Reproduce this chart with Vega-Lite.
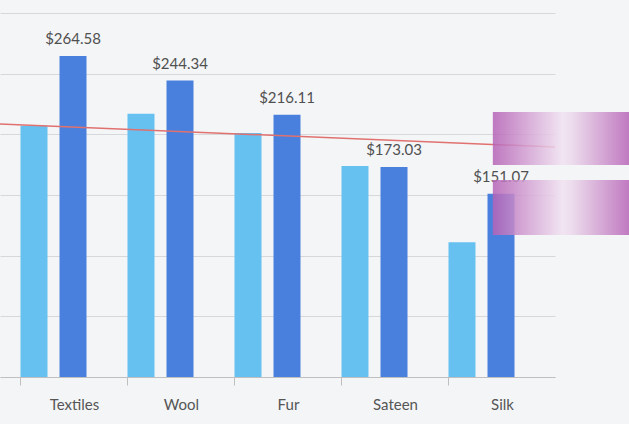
{
  "$schema": "https://vega.github.io/schema/vega-lite/v6.json",
  "width": 555,
  "height": 364,
  "autosize": {"type": "none"},
  "padding": {"left": 0, "top": 13, "right": 74, "bottom": 47},
  "background": "#f4f5f7",
  "config": {"view": {"stroke": null}, "font": "Lato"},
  "layer": [
    {
      "data": {
        "values": [
          {"material": "Textiles", "series": "Series 1", "value": 207},
          {"material": "Textiles", "series": "Series 2", "value": 264.58},
          {"material": "Wool", "series": "Series 1", "value": 217},
          {"material": "Wool", "series": "Series 2", "value": 244.34},
          {"material": "Fur", "series": "Series 1", "value": 201},
          {"material": "Fur", "series": "Series 2", "value": 216.11},
          {"material": "Sateen", "series": "Series 1", "value": 174},
          {"material": "Sateen", "series": "Series 2", "value": 173.03},
          {"material": "Silk", "series": "Series 1", "value": 111},
          {"material": "Silk", "series": "Series 2", "value": 151.07}
        ]
      },
      "encoding": {
        "x": {
          "field": "material",
          "type": "nominal",
          "sort": ["Textiles", "Wool", "Fur", "Sateen", "Silk"],
          "scale": {"paddingInner": 0.383, "paddingOuter": 0.285, "align": 0.336},
          "axis": {
            "title": null,
            "labelAngle": 0,
            "bandPosition": 0,
            "labelOffset": 21,
            "domainColor": "#bfbfbf",
            "tickColor": "#bfbfbf",
            "tickSize": 8,
            "labelColor": "#555555",
            "labelFontSize": 15,
            "labelPadding": 12
          }
        },
        "xOffset": {"field": "series", "scale": {"paddingInner": 0.308, "paddingOuter": 0}},
        "y": {
          "field": "value",
          "type": "quantitative",
          "scale": {"domain": [0, 300]},
          "axis": {
            "title": null,
            "labels": false,
            "ticks": false,
            "domain": false,
            "tickCount": 6,
            "gridColor": "#d6d8dc"
          }
        }
      },
      "layer": [
        {
          "mark": {"type": "bar"},
          "encoding": {
            "color": {
              "field": "series",
              "type": "nominal",
              "scale": {"domain": ["Series 1", "Series 2"], "range": ["#66c1f1", "#4a80dd"]},
              "legend": null
            }
          }
        },
        {
          "transform": [{"filter": "datum.series === 'Series 2'"}],
          "mark": {"type": "text", "baseline": "bottom", "dy": -9, "fontSize": 15, "color": "#505050"},
          "encoding": {
            "text": {"field": "value", "type": "quantitative", "format": "$.2f"}
          }
        }
      ]
    },
    {
      "data": {"values": [{"xs": 0, "xe": 1, "ys": 208.5, "ye": 189.5}]},
      "mark": {"type": "rule", "color": "#e0716f", "strokeWidth": 1.5},
      "encoding": {
        "x": {"field": "xs", "type": "quantitative", "scale": {"domain": [0, 1]}, "axis": null},
        "x2": {"field": "xe"},
        "y": {"field": "ys", "type": "quantitative"},
        "y2": {"field": "ye"}
      }
    },
    {
      "data": {
        "values": [
          {"xs": 0.888, "xe": 1.14, "ys": 218.4, "ye": 174.7},
          {"xs": 0.888, "xe": 1.14, "ys": 162.4, "ye": 117}
        ]
      },
      "mark": {
        "type": "rect",
        "opacity": 0.85,
        "fill": {
          "gradient": "linear",
          "x1": 0, "x2": 1, "y1": 0, "y2": 0,
          "stops": [
            {"offset": 0, "color": "#b562b6"},
            {"offset": 0.5, "color": "#f1e2f1"},
            {"offset": 0.57, "color": "#ead6ea"},
            {"offset": 1, "color": "#b45db4"}
          ]
        }
      },
      "encoding": {
        "x": {"field": "xs", "type": "quantitative", "scale": {"domain": [0, 1]}, "axis": null},
        "x2": {"field": "xe"},
        "y": {"field": "ys", "type": "quantitative"},
        "y2": {"field": "ye"}
      }
    }
  ],
  "resolve": {"scale": {"x": "independent"}, "axis": {"x": "independent"}}
}
